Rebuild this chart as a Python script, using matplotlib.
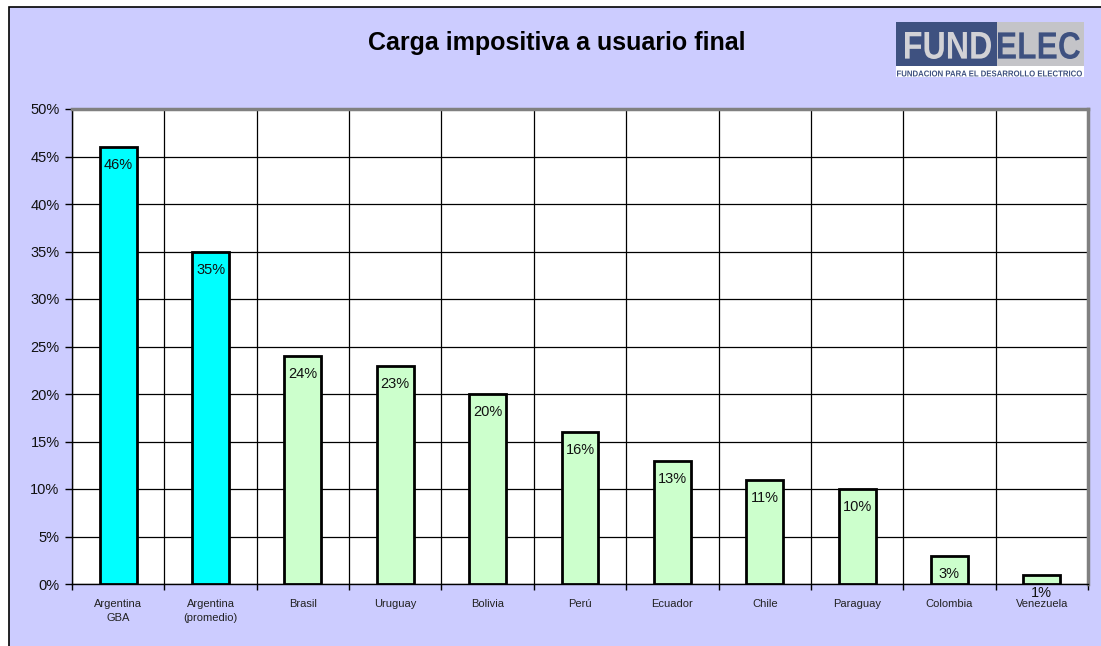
import matplotlib
matplotlib.use("Agg")
import matplotlib.pyplot as plt
from matplotlib.patches import Rectangle, PathPatch
from matplotlib.textpath import TextPath
from matplotlib.font_manager import FontProperties
from matplotlib.transforms import Affine2D, IdentityTransform
import numpy as np

categories = ["Argentina\nGBA", "Argentina\n(promedio)", "Brasil", "Uruguay", "Bolivia",
              "Perú", "Ecuador", "Chile", "Paraguay", "Colombia", "Venezuela"]
values = [46, 35, 24, 23, 20, 16, 13, 11, 10, 3, 1]
bar_colors = ["#00FFFF", "#00FFFF"] + ["#CCFFCC"] * 9
title = "Carga impositiva a usuario final"

plt.rcParams['font.family'] = ['Liberation Sans', 'DejaVu Sans']

W, H = 1101, 646
fig = plt.figure(figsize=(W / 100, H / 100), dpi=100, facecolor="white")

# lavender background panel with black left/top border
bg = Rectangle((8.5 / W, -0.05), 1.2, 1 - 6.5 / H + 0.05, transform=fig.transFigure,
               facecolor="#CCCCFF", edgecolor="black", linewidth=1.2, zorder=-10)
fig.patches.append(bg)

left, right = 72 / W, 1088 / W
bottom, top = 1 - 584 / H, 1 - 109 / H
ax = fig.add_axes([left, bottom, right - left, top - bottom])
ax.set_facecolor("white")

x = np.arange(len(categories))
bars = ax.bar(x, values, width=0.4, color=bar_colors, edgecolor="black", linewidth=2, zorder=3)

ax.set_xlim(-0.5, len(categories) - 0.5)
ax.set_ylim(0, 50)
ax.set_yticks(np.arange(0, 51, 5))
ax.set_yticklabels([f"{v}%" for v in range(0, 51, 5)], fontsize=10.5, color="#111111")
ax.tick_params(axis="y", direction="out", length=5, width=1, pad=4)

ax.set_xticks(x)
ax.set_xticklabels(categories, fontsize=8, color="#222222", linespacing=1.45)
ax.tick_params(axis="x", which="major", length=0, pad=11)
ax.set_xticks(np.arange(-0.5, len(categories) + 0.5, 1), minor=True)
ax.tick_params(axis="x", which="minor", direction="out", length=4, width=1)

ax.yaxis.grid(True, color="black", linewidth=0.9, zorder=1)
ax.xaxis.grid(True, which="minor", color="black", linewidth=0.9, zorder=1)
ax.xaxis.grid(False, which="major")
ax.set_axisbelow(True)

for s in ["top", "right"]:
    ax.spines[s].set_color("#808080")
    ax.spines[s].set_linewidth(2.5)
for s in ["left", "bottom"]:
    ax.spines[s].set_color("black")
    ax.spines[s].set_linewidth(1)

for xi, v in zip(x, values):
    ax.annotate(f"{v}%", (xi, v), xytext=(0, -13), textcoords="offset points",
                ha="center", va="center", fontsize=10.5, color="#111111", zorder=5)

fig.text(557 / W, 1 - 43 / H, title, ha="center", va="center", fontsize=18,
         fontweight="bold", color="black")

# logo
def fr(px, py, pw, ph, color):
    fig.patches.append(Rectangle((px / W, 1 - (py + ph) / H), pw / W, ph / H,
                                 transform=fig.transFigure, facecolor=color,
                                 edgecolor="none", zorder=1))

def fit_text(s, x0, x1, ytop, ybot, color):
    tp = TextPath((0, 0), s, size=20, prop=FontProperties(family="Liberation Sans", weight="bold"))
    ext = tp.get_extents()
    sx = (x1 - x0) / ext.width
    sy = (ybot - ytop) / ext.height
    tr = (Affine2D().translate(-ext.x0, -ext.y0).scale(sx, sy)
          .translate(x0, H - ybot) + IdentityTransform())
    p = PathPatch(tp, facecolor=color, edgecolor="none", transform=tr, zorder=2)
    fig.patches.append(p)

blue = "#3E5180"
fr(896, 22, 101, 44, blue)
fr(997, 22, 87, 44, "#C4C4C8")
fr(896, 66, 188, 11, "white")
fit_text("FUND", 905, 991, 32, 59, "#D2D2D6")
fit_text("ELEC", 998, 1080, 32, 59, blue)
fit_text("FUNDACION PARA EL DESARROLLO ELECTRICO", 897, 1082, 70.5, 76.5, blue)

fig.savefig("out.png", dpi=100, facecolor="white")
